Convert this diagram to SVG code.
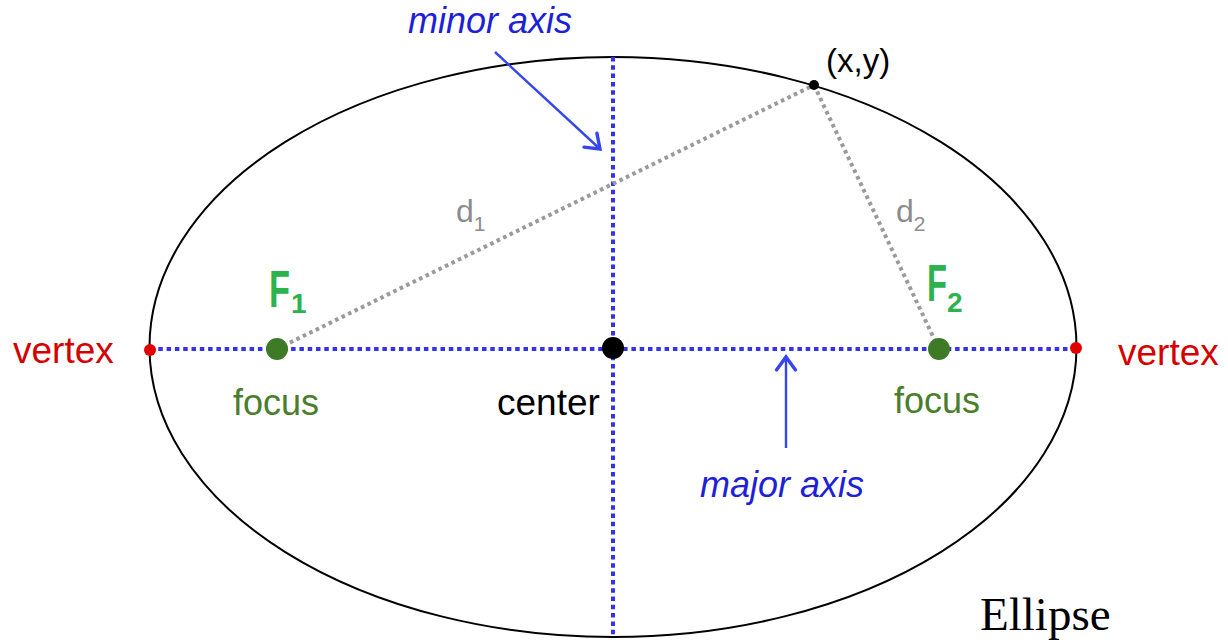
<svg xmlns="http://www.w3.org/2000/svg" width="1228" height="640" viewBox="0 0 1228 640">
  <defs>
    <style>
      .lbl { font-family: "Liberation Sans", Arial, sans-serif; }
      .axislbl { font-family: "Liberation Sans", Arial, sans-serif; font-style: italic; font-size: 36px; fill: #1f1fd8; text-anchor: middle; }
      .vertex { font-size: 37px; fill: #d40000; }
      .focus { font-size: 36px; fill: #4a7d2c; text-anchor: middle; }
      .fname { font-weight: bold; fill: #2db34d; }
      .dlbl { fill: #8c8c8c; }
      .axis { stroke: #3333ee; stroke-width: 4; stroke-dasharray: 4.5 3.8; fill: none; }
      .dist { stroke: #9a9a9a; stroke-width: 4; stroke-dasharray: 3.6 3.6; fill: none; }
      .pointer { stroke: #3546ee; stroke-width: 2.4; fill: none; marker-end: url(#chev); }
    </style>
    <marker id="chev" markerUnits="userSpaceOnUse" markerWidth="26" markerHeight="26" viewBox="0 0 26 26" refX="22" refY="13" orient="auto">
      <path d="M9,3.5 L22,13 L9,22.5" fill="none" stroke="#3546ee" stroke-width="3.4" stroke-linejoin="miter" stroke-linecap="round"/>
    </marker>
  </defs>
  <rect width="1228" height="640" fill="#ffffff"/>

  <g id="ellipse">
    <ellipse cx="613" cy="347" rx="463.5" ry="290" fill="none" stroke="#000" stroke-width="2"/>
  </g>

  <g id="connectors">
    <line class="axis" x1="150" y1="349" x2="1076" y2="349"/>
    <line class="axis" x1="613" y1="57" x2="613" y2="637"/>
    <line class="dist" x1="277" y1="349" x2="814" y2="85"/>
    <line class="dist" x1="814" y1="85" x2="939" y2="349"/>
    <line class="pointer" x1="495" y1="52" x2="600" y2="149"/>
    <line class="pointer" x1="786" y1="448" x2="786" y2="357"/>
  </g>

  <g id="vertex-left">
    <circle cx="150" cy="350" r="6" fill="#e00000"/>
    <text class="lbl vertex" x="13" y="363">vertex</text>
  </g>
  <g id="vertex-right">
    <circle cx="1076" cy="348" r="6" fill="#e00000"/>
    <text class="lbl vertex" x="1118" y="365">vertex</text>
  </g>
  <g id="focus-1">
    <circle cx="277" cy="349" r="11" fill="#3f7a26"/>
    <text class="lbl fname" x="269" y="307" font-size="51" textLength="21" lengthAdjust="spacingAndGlyphs">F</text>
    <text class="lbl fname" x="291" y="313" font-size="28">1</text>
    <text class="lbl focus" x="276" y="415">focus</text>
  </g>
  <g id="focus-2">
    <circle cx="939" cy="349" r="11" fill="#3f7a26"/>
    <text class="lbl fname" x="927" y="301" font-size="51" textLength="20" lengthAdjust="spacingAndGlyphs">F</text>
    <text class="lbl fname" x="947" y="312" font-size="28">2</text>
    <text class="lbl focus" x="937" y="413">focus</text>
  </g>
  <g id="center">
    <circle cx="613" cy="348" r="11" fill="#000"/>
    <text class="lbl" x="497" y="415" font-size="37" fill="#000">center</text>
  </g>
  <g id="point">
    <circle cx="814" cy="85" r="5" fill="#000"/>
    <text class="lbl" x="826" y="72" font-size="33" fill="#000">(x,y)</text>
  </g>
  <g id="d1">
    <text class="lbl dlbl" x="456" y="222" font-size="32">d<tspan font-size="21" dy="9">1</tspan></text>
  </g>
  <g id="d2">
    <text class="lbl dlbl" x="896" y="222" font-size="32">d<tspan font-size="21" dy="9">2</tspan></text>
  </g>
  <g id="minor-axis-label">
    <text class="axislbl" x="490" y="33">minor axis</text>
  </g>
  <g id="major-axis-label">
    <text class="axislbl" x="782" y="497">major axis</text>
  </g>
  <g id="title">
    <text x="980" y="630" font-family="'Liberation Serif', 'Times New Roman', serif" font-size="47" fill="#000">Ellipse</text>
  </g>
</svg>
